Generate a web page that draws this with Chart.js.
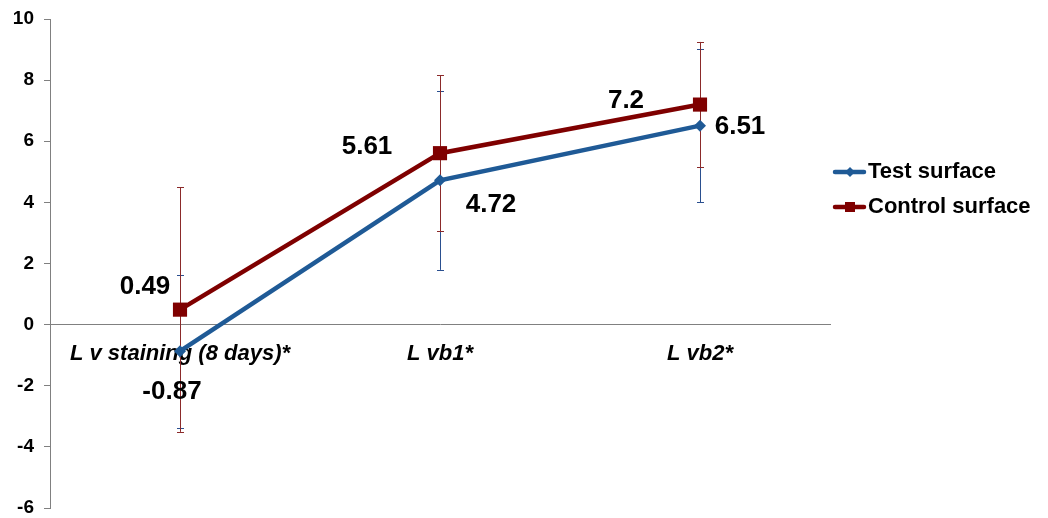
<!DOCTYPE html>
<html>
<head>
<meta charset="utf-8">
<script src="https://cdn.jsdelivr.net/npm/chart.js@4/dist/chart.umd.min.js"></script>
<style>
  html, body { margin: 0; padding: 0; background: #ffffff; }
  #wrap { width: 1048px; height: 518px; position: relative; }
</style>
</head>
<body>
<div id="wrap"><canvas id="chart"></canvas></div>
<script>
// Measurements per staining stage
const categories = ['L v staining (8 days)*', 'L vb1*', 'L vb2*'];
const testSurface = [-0.87, 4.72, 6.51];
const controlSurface = [0.49, 5.61, 7.2];
const testError = [2.5, 2.93, 2.5];
const controlError = [4.0, 2.55, 2.05];
const seriesNames = ['Test surface', 'Control surface'];
const yTickValues = [-6, -4, -2, 0, 2, 4, 6, 8, 10];

const FONT = '"Liberation Sans", Arial, Helvetica, sans-serif';
const BLUE = '#1F5A96';
const BLUE_ERR = '#2A4F8F';
const RED = '#7F0000';
const RED_ERR = '#8B2A2A';

// Vertical error bars with small caps, drawn under the lines
const errorBars = {
  id: 'errorBars',
  beforeDatasetsDraw(chart) {
    const ctx = chart.ctx;
    const y = chart.scales.y;
    chart.data.datasets.forEach((ds, i) => {
      const meta = chart.getDatasetMeta(i);
      ctx.save();
      ctx.strokeStyle = ds.errorColor;
      ctx.lineWidth = 1;
      meta.data.forEach((pt, j) => {
        const v = ds.data[j], e = ds.errors[j];
        const top = y.getPixelForValue(v + e);
        const bot = y.getPixelForValue(v - e);
        const x = Math.round(pt.x) + 0.5;
        ctx.beginPath();
        ctx.moveTo(x, top); ctx.lineTo(x, bot);
        ctx.moveTo(x - 3.5, Math.round(top) + 0.5); ctx.lineTo(x + 3.5, Math.round(top) + 0.5);
        ctx.moveTo(x - 3.5, Math.round(bot) + 0.5); ctx.lineTo(x + 3.5, Math.round(bot) + 0.5);
        ctx.stroke();
      });
      ctx.restore();
    });
  }
};

// Value labels next to each point
const valueLabels = {
  id: 'valueLabels',
  afterDatasetsDraw(chart) {
    const ctx = chart.ctx;
    ctx.save();
    ctx.font = 'bold 26px ' + FONT;
    ctx.fillStyle = '#000000';
    ctx.textAlign = 'center';
    ctx.textBaseline = 'middle';
    chart.data.datasets.forEach((ds, i) => {
      const meta = chart.getDatasetMeta(i);
      meta.data.forEach((pt, j) => {
        const off = ds.labelOffsets[j];
        ctx.fillText(String(ds.data[j]), pt.x + off[0], pt.y + off[1]);
      });
    });
    ctx.restore();
  }
};

// Legend to the right of the plot: line sample with marker, then name
const sideLegend = {
  id: 'sideLegend',
  afterDraw(chart) {
    const ctx = chart.ctx;
    const x0 = chart.chartArea.right + 3;
    const rows = [172, 207];
    ctx.save();
    chart.data.datasets.forEach((ds, i) => {
      const cy = rows[i];
      ctx.strokeStyle = ds.borderColor;
      ctx.lineWidth = 4.5;
      ctx.lineCap = 'round';
      ctx.beginPath();
      ctx.moveTo(x0 + 2, cy); ctx.lineTo(x0 + 31, cy);
      ctx.stroke();
      ctx.fillStyle = ds.borderColor;
      const cx = x0 + 17;
      if (ds.pointStyle === 'rectRot') {
        ctx.beginPath();
        ctx.moveTo(cx - 5, cy); ctx.lineTo(cx, cy - 5);
        ctx.lineTo(cx + 5, cy); ctx.lineTo(cx, cy + 5);
        ctx.closePath(); ctx.fill();
      } else {
        ctx.fillRect(cx - 5, cy - 5, 10, 10);
      }
      ctx.fillStyle = '#000000';
      ctx.font = 'bold 22px ' + FONT;
      ctx.textAlign = 'left';
      ctx.textBaseline = 'middle';
      ctx.fillText(ds.label, x0 + 35, cy);
    });
    ctx.restore();
  }
};

// Keep tick-label overhang from shrinking the plot vertically
function noVerticalPadding(scale) {
  scale.paddingTop = 0;
  scale.paddingBottom = 0;
}

new Chart(document.getElementById('chart'), {
  type: 'line',
  data: {
    labels: categories,
    datasets: [
      {
        label: seriesNames[0],
        data: testSurface,
        errors: testError,
        errorColor: BLUE_ERR,
        labelOffsets: [[-8, 41], [51, 24], [40, 1]],
        borderColor: BLUE,
        backgroundColor: BLUE,
        borderWidth: 4.5,
        pointStyle: 'rectRot',
        pointRadius: 6,
        pointBorderWidth: 0,
        tension: 0,
        order: 2
      },
      {
        label: seriesNames[1],
        data: controlSurface,
        errors: controlError,
        errorColor: RED_ERR,
        labelOffsets: [[-35, -23], [-73, -6], [-74, -4]],
        borderColor: RED,
        backgroundColor: RED,
        borderWidth: 4.5,
        pointStyle: 'rect',
        pointRadius: 10,
        pointBorderWidth: 0,
        tension: 0,
        order: 1
      }
    ]
  },
  options: {
    responsive: true,
    maintainAspectRatio: false,
    animation: false,
    layout: { padding: { left: 0, right: 218, top: 19, bottom: 10 } },
    plugins: {
      legend: { display: false },
      tooltip: { enabled: false }
    },
    scales: {
      x: {
        type: 'category',
        offset: true,
        position: { y: 0 },
        afterFit: noVerticalPadding,
        grid: { display: false, drawTicks: false },
        border: { display: true, color: '#808080', width: 1 },
        ticks: {
          color: '#000000',
          padding: 16,
          maxRotation: 0,
          autoSkip: false,
          font: { family: FONT, size: 22, weight: 'bold', style: 'italic' }
        }
      },
      y: {
        min: yTickValues[0],
        max: yTickValues[yTickValues.length - 1],
        afterBuildTicks(scale) {
          scale.ticks = yTickValues.map(v => ({ value: v }));
        },
        afterFit(scale) {
          scale.width = 50;
          noVerticalPadding(scale);
        },
        grid: { display: true, drawOnChartArea: false, drawTicks: true, tickLength: 6, color: '#808080' },
        border: { display: true, color: '#808080', width: 1 },
        ticks: {
          color: '#000000',
          padding: 10,
          font: { family: FONT, size: 19, weight: 'bold', lineHeight: 1 }
        }
      }
    }
  },
  plugins: [errorBars, valueLabels, sideLegend]
});
</script>
</body>
</html>
